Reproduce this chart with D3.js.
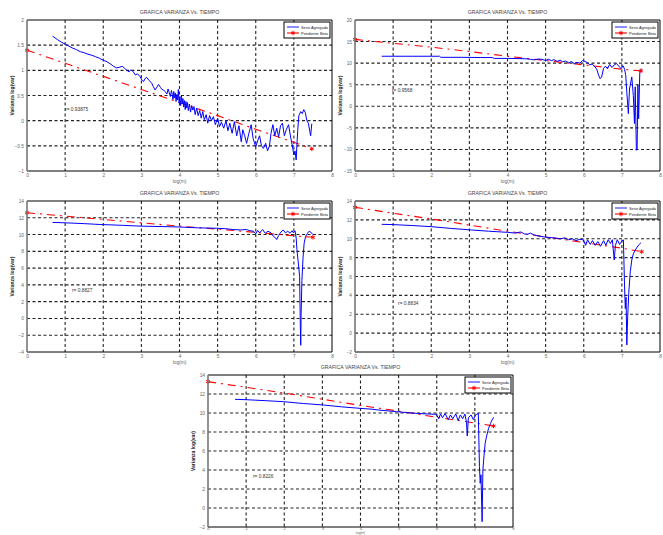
<!DOCTYPE html>
<html>
<head>
<meta charset="utf-8">
<script src="https://cdn.jsdelivr.net/npm/d3@7"></script>
<style>
  body { margin: 0; background: #fff; }
  svg { display: block; }
  text { font-family: "Liberation Sans", Arial, sans-serif; }
</style>
</head>
<body>
<svg id="chart" width="663" height="535"></svg>
<script>
const title = "GRAFICA VARIANZA Vs. TIEMPO";
const xLabel = "log(m)";
const yLabel = "Varianza log(var)";
const legendNames = ["Serie Agregada", "Pendiente Beta"];
const xTicks = [0, 1, 2, 3, 4, 5, 6, 7, 8];

// panel 1 (top left)
const yTicksA = [-1, -0.5, 0, 0.5, 1, 1.5, 2];
const blueA = [[0.67,1.68],[0.8,1.61],[0.9,1.56],[1.0,1.52],[1.1,1.48],[1.2,1.44],[1.3,1.41],[1.4,1.37],[1.5,1.35],[1.6,1.32],[1.7,1.30],[1.8,1.27],[1.9,1.24],[2.0,1.20],[2.1,1.17],[2.2,1.12],[2.27,1.08],[2.35,1.05],[2.42,1.06],[2.5,1.08],[2.56,1.04],[2.62,1.0],[2.68,0.97],[2.72,1.01],[2.78,0.98],[2.84,0.91],[2.9,0.93],[2.97,0.87],[3.02,0.80],[3.06,0.78],[3.1,0.84],[3.14,0.86],[3.2,0.80],[3.27,0.75],[3.31,0.68],[3.36,0.61],[3.41,0.67],[3.45,0.72],[3.5,0.66],[3.54,0.62],[3.58,0.61],[3.62,0.58],[3.67,0.53],[3.7,0.63],[3.73,0.56],[3.76,0.48],[3.79,0.60],[3.81,0.52],[3.83,0.42],[3.85,0.58],[3.87,0.45],[3.89,0.55],[3.91,0.38],[3.93,0.52],[3.95,0.41],[3.97,0.62],[3.99,0.35],[4.01,0.48],[4.03,0.30],[4.05,0.50],[4.07,0.33],[4.09,0.44],[4.11,0.27],[4.13,0.40],[4.15,0.22],[4.17,0.38],[4.19,0.25],[4.21,0.36],[4.23,0.20],[4.26,0.33],[4.29,0.17],[4.32,0.30],[4.35,0.21],[4.38,0.28],[4.41,0.12],[4.45,0.25],[4.49,0.10],[4.53,0.20],[4.57,0.05],[4.61,0.18],[4.65,0.02],[4.70,0.12],[4.74,-0.05],[4.79,0.10],[4.84,0.0],[4.89,0.08],[4.94,-0.08],[5.0,0.05],[5.05,-0.12],[5.1,-0.03],[5.16,-0.15],[5.22,0.0],[5.27,-0.20],[5.32,-0.05],[5.38,-0.25],[5.44,-0.02],[5.5,-0.30],[5.56,-0.10],[5.62,-0.42],[5.66,-0.18],[5.71,-0.30],[5.76,-0.45],[5.82,-0.25],[5.88,-0.08],[5.93,-0.35],[6.0,-0.52],[6.05,-0.40],[6.1,-0.30],[6.15,-0.50],[6.2,-0.55],[6.26,-0.45],[6.31,-0.60],[6.36,-0.50],[6.4,-0.25],[6.45,-0.08],[6.5,-0.30],[6.55,-0.15],[6.6,-0.32],[6.65,-0.10],[6.7,-0.05],[6.75,-0.30],[6.8,-0.18],[6.86,-0.08],[6.92,-0.35],[6.96,-0.50],[7.0,-0.68],[7.03,-0.60],[7.06,-0.78],[7.1,-0.20],[7.13,0.10],[7.18,0.18],[7.22,0.14],[7.26,0.22],[7.3,0.16],[7.34,0.0],[7.38,-0.05],[7.42,-0.22],[7.44,-0.30],[7.47,-0.06]];
const redA = [[0,1.40],[1,1.14],[2,0.88],[3,0.62],[4,0.36],[5,0.10],[6,-0.17],[7,-0.43],[7.47,-0.56]];

// panel 2 (top right)
const yTicksB = [-15, -10, -5, 0, 5, 10, 15, 20];
const blueB = [[0.7,11.6],[1.0,11.6],[1.5,11.6],[2.0,11.6],[2.22,11.6],[2.25,11.35],[2.8,11.35],[3.3,11.3],[3.6,11.3],[3.65,11.1],[4.0,11.1],[4.3,11.05],[4.5,11.0],[4.6,10.9],[4.7,10.75],[4.8,10.95],[4.9,10.9],[5.0,10.6],[5.07,10.9],[5.15,10.6],[5.22,10.8],[5.3,10.4],[5.38,10.7],[5.45,10.3],[5.52,10.5],[5.6,10.1],[5.68,10.35],[5.75,9.9],[5.82,10.2],[5.9,10.0],[5.97,10.6],[6.03,10.4],[6.1,10.1],[6.16,9.6],[6.22,9.8],[6.28,9.3],[6.34,8.6],[6.39,7.2],[6.43,6.4],[6.47,6.8],[6.52,8.8],[6.57,9.3],[6.62,8.7],[6.68,9.7],[6.74,9.0],[6.8,9.6],[6.86,9.9],[6.92,9.3],[6.98,8.7],[7.03,9.4],[7.07,8.6],[7.1,7.3],[7.13,3.2],[7.17,-1.7],[7.2,4.0],[7.26,6.8],[7.3,2.5],[7.33,-4.0],[7.35,4.5],[7.38,-10.2],[7.4,-9.9],[7.42,5.0],[7.44,-2.9],[7.47,7.8],[7.49,8.4],[7.52,8.7]];
const redB = [[0,15.5],[1,14.6],[2,13.7],[3,12.7],[4,11.6],[5,10.6],[6,9.6],[7,8.6],[7.5,8.2]];

// panel 3 (middle left)
const yTicksC = [-4, -2, 0, 2, 4, 6, 8, 10, 12, 14];
const blueC = [[0.67,11.45],[1.0,11.4],[1.5,11.3],[1.92,11.2],[2.5,11.1],[3.0,11.0],[3.67,10.94],[4.0,10.9],[4.5,10.8],[4.98,10.75],[5.2,10.7],[5.4,10.6],[5.6,10.55],[5.75,10.6],[5.85,10.45],[5.94,10.4],[6.0,10.1],[6.05,10.5],[6.1,10.2],[6.18,10.6],[6.25,10.15],[6.32,10.4],[6.4,10.2],[6.46,9.8],[6.52,9.6],[6.55,9.4],[6.6,9.9],[6.66,10.3],[6.72,10.55],[6.78,10.2],[6.84,10.4],[6.9,10.15],[6.95,10.45],[6.99,10.2],[7.03,10.45],[7.06,9.6],[7.08,8.2],[7.12,6.5],[7.15,5.0],[7.17,-1.0],[7.18,-3.2],[7.19,0.5],[7.21,4.5],[7.24,7.2],[7.27,9.0],[7.31,9.8],[7.35,10.1],[7.4,10.4],[7.44,10.3],[7.5,10.0]];
const redC = [[0,12.6],[1,12.2],[2,11.8],[3,11.4],[4,11.0],[5,10.65],[6,10.25],[7,9.85],[7.5,9.67]];

// panel 4 (middle right)
const yTicksD = [-2, 0, 2, 4, 6, 8, 10, 12, 14];
const blueD = [[0.7,11.53],[1.0,11.5],[1.5,11.4],[2.0,11.28],[2.5,11.1],[3.06,10.93],[3.5,10.8],[4.0,10.68],[4.2,10.6],[4.35,10.72],[4.45,10.5],[4.53,10.47],[4.6,10.6],[4.7,10.4],[4.8,10.3],[5.03,10.15],[5.2,10.1],[5.4,10.0],[5.5,10.1],[5.6,9.9],[5.7,10.0],[5.8,9.8],[5.9,9.95],[5.99,9.87],[6.05,9.3],[6.1,9.9],[6.17,9.4],[6.23,9.8],[6.3,9.3],[6.37,9.7],[6.44,9.2],[6.52,9.8],[6.58,9.3],[6.64,9.9],[6.7,9.5],[6.75,9.9],[6.8,7.75],[6.83,9.3],[6.88,9.9],[6.94,9.4],[6.99,9.7],[7.04,9.87],[7.07,5.0],[7.09,2.6],[7.11,3.8],[7.13,-1.25],[7.15,1.5],[7.18,4.2],[7.22,6.5],[7.26,7.75],[7.3,8.4],[7.35,8.8],[7.44,9.34],[7.5,9.58]];
const redD = [[0,13.33],[1,12.7],[2,12.1],[3,11.45],[4,10.8],[5,10.2],[6,9.6],[7,9.0],[7.52,8.63]];

// panel 5 (bottom)
const yTicksE = [-2, 0, 2, 4, 6, 8, 10, 12, 14];
const blueE = [[0.71,11.44],[1.0,11.4],[1.5,11.3],[1.98,11.19],[2.5,11.0],[3.03,10.84],[3.5,10.65],[3.99,10.49],[4.3,10.4],[4.5,10.3],[4.95,10.14],[5.2,10.05],[5.5,9.95],[5.75,9.9],[5.99,9.86],[6.05,9.4],[6.1,9.9],[6.15,9.5],[6.22,9.95],[6.3,9.3],[6.36,9.8],[6.42,9.4],[6.5,9.9],[6.56,9.2],[6.62,9.8],[6.68,9.4],[6.74,9.9],[6.78,9.0],[6.8,7.58],[6.83,9.5],[6.9,9.8],[6.96,9.3],[7.02,9.8],[7.09,9.96],[7.12,4.35],[7.14,2.6],[7.16,3.5],[7.19,-1.44],[7.21,4.0],[7.24,5.5],[7.27,6.81],[7.31,7.6],[7.36,8.39],[7.41,8.9],[7.45,9.26],[7.49,9.54]];
const redE = [[0,13.3],[1,12.7],[2,12.1],[3,11.45],[4,10.8],[5,10.2],[6,9.55],[7,8.95],[7.49,8.63]];

const rTexts = ["r= 0.93875", "r= 0.9568", "r= 0.8827", "r= 0.8834", "r= 0.8226"];

// compact = bottom panel, squeezed against the page edge
const panels = [
  {box: [27, 20, 332, 171], yTicks: yTicksA, blue: blueA, red: redA, r: rTexts[0], rAt: [1.0, 0.2]},
  {box: [355, 20, 660, 171], yTicks: yTicksB, blue: blueB, red: redB, r: rTexts[1], rAt: [0.97, 3.3]},
  {box: [27, 201, 332, 352], yTicks: yTicksC, blue: blueC, red: redC, r: rTexts[2], rAt: [1.18, 3.15]},
  {box: [355, 201, 660, 352], yTicks: yTicksD, blue: blueD, red: redD, r: rTexts[3], rAt: [1.13, 3.0]},
  {box: [208, 375, 513, 527], yTicks: yTicksE, blue: blueE, red: redE, r: rTexts[4], rAt: [1.18, 3.16], compact: true}
];

const svg = d3.select("#chart");
const fmt = d3.format("~g");

panels.forEach(drawPanel);

function drawPanel(p) {
  const [x0, y0, x1, y1] = p.box;
  const x = d3.scaleLinear().domain([0, 8]).range([x0, x1]);
  const y = d3.scaleLinear().domain(d3.extent(p.yTicks)).range([y1, y0]);
  const g = svg.append("g");

  g.append("rect")
    .attr("x", x0).attr("y", y0)
    .attr("width", x1 - x0).attr("height", y1 - y0)
    .attr("fill", "#fff");

  // dashed grid
  const grid = g.append("g").attr("stroke", "#222").attr("stroke-width", 1.1).attr("stroke-dasharray", "3,2.5");
  grid.selectAll("line.v")
    .data(xTicks.slice(1, -1))
    .join("line")
    .attr("x1", d => x(d)).attr("x2", d => x(d))
    .attr("y1", y0).attr("y2", y1);
  grid.selectAll("line.h")
    .data(p.yTicks.slice(1, -1))
    .join("line")
    .attr("x1", x0).attr("x2", x1)
    .attr("y1", d => y(d)).attr("y2", d => y(d));

  // axes labels
  const xAxis = d3.axisBottom(x).tickValues(xTicks).tickFormat(fmt).tickSize(0).tickPadding(p.compact ? 0.5 : 2.5);
  const yAxis = d3.axisLeft(y).tickValues(p.yTicks).tickFormat(fmt).tickSize(0).tickPadding(3);
  const gx = g.append("g").attr("transform", `translate(0,${y1})`).call(xAxis);
  const gy = g.append("g").attr("transform", `translate(${x0},0)`).call(yAxis);
  [gx, gy].forEach(a => {
    a.select(".domain").remove();
    a.selectAll("text").attr("font-size", 4.8).attr("fill", "#666").attr("font-family", "Liberation Sans, Arial, sans-serif");
  });
  if (p.compact) gx.selectAll("text").attr("font-size", 4.2);

  // series
  const line = d3.line().x(d => x(d[0])).y(d => y(d[1]));
  g.append("path")
    .attr("d", line(p.red))
    .attr("fill", "none")
    .attr("stroke", "#ff0000")
    .attr("stroke-width", 1.1)
    .attr("stroke-dasharray", "8,5,2,5");
  g.append("path")
    .attr("d", line(p.blue))
    .attr("fill", "none")
    .attr("stroke", "#0000ff")
    .attr("stroke-width", 1);
  const star = d3.symbol().type(d3.symbolAsterisk).size(14);
  g.selectAll("path.mk")
    .data([p.red[0], p.red[p.red.length - 1]])
    .join("path")
    .attr("transform", d => `translate(${x(d[0])},${y(d[1])})`)
    .attr("d", star)
    .attr("fill", "none")
    .attr("stroke", "#ff0000")
    .attr("stroke-width", 1);

  // frame
  g.append("path")
    .attr("d", `M${x0},${y0}H${x1}V${y1}`)
    .attr("fill", "none").attr("stroke", "#000").attr("stroke-width", 1);
  g.append("line")
    .attr("x1", x0).attr("x2", x1).attr("y1", y1).attr("y2", y1)
    .attr("stroke", "#000").attr("stroke-width", 1);
  g.append("line")
    .attr("x1", x0).attr("x2", x0).attr("y1", y0).attr("y2", y1)
    .attr("stroke", "#777").attr("stroke-width", 1.6);

  // texts
  g.append("text")
    .attr("x", (x0 + x1) / 2).attr("y", y0 - 6)
    .attr("text-anchor", "middle").attr("font-size", 5.2).attr("fill", "#444")
    .text(title);
  g.append("text")
    .attr("x", (x0 + x1) / 2).attr("y", p.compact ? 534.4 : y1 + 12)
    .attr("text-anchor", "middle").attr("font-size", p.compact ? 3.3 : 4.8).attr("fill", "#666")
    .text(xLabel);
  g.append("text")
    .attr("transform", `translate(${x0 - 13},${(y0 + y1) / 2}) rotate(-90)`)
    .attr("text-anchor", "middle").attr("font-size", 5).attr("font-weight", "bold").attr("fill", "#222")
    .text(yLabel);
  g.append("text")
    .attr("x", x(p.rAt[0])).attr("y", y(p.rAt[1]))
    .attr("font-size", 4.8).attr("fill", "#333")
    .text(p.r);

  // legend
  const lx = x1 - 48, ly = y0 + 2;
  const lg = g.append("g").attr("transform", `translate(${lx},${ly})`);
  lg.append("rect").attr("width", 46).attr("height", 16)
    .attr("fill", "#fff").attr("stroke", "#000").attr("stroke-width", 1);
  lg.append("line").attr("x1", 3).attr("x2", 15).attr("y1", 5).attr("y2", 5)
    .attr("stroke", "#6f6fff").attr("stroke-width", 1.6);
  lg.append("line").attr("x1", 3).attr("x2", 15).attr("y1", 11).attr("y2", 11)
    .attr("stroke", "#ff0000").attr("stroke-width", 1.1);
  lg.append("path").attr("transform", "translate(9,11)").attr("d", star)
    .attr("fill", "none").attr("stroke", "#ff0000");
  lg.selectAll("text")
    .data(legendNames)
    .join("text")
    .attr("x", 17).attr("y", (d, i) => 6.6 + i * 6)
    .attr("font-size", 4.2).attr("fill", "#222")
    .attr("textLength", 27).attr("lengthAdjust", "spacingAndGlyphs")
    .text(d => d);
}
</script>
</body>
</html>
